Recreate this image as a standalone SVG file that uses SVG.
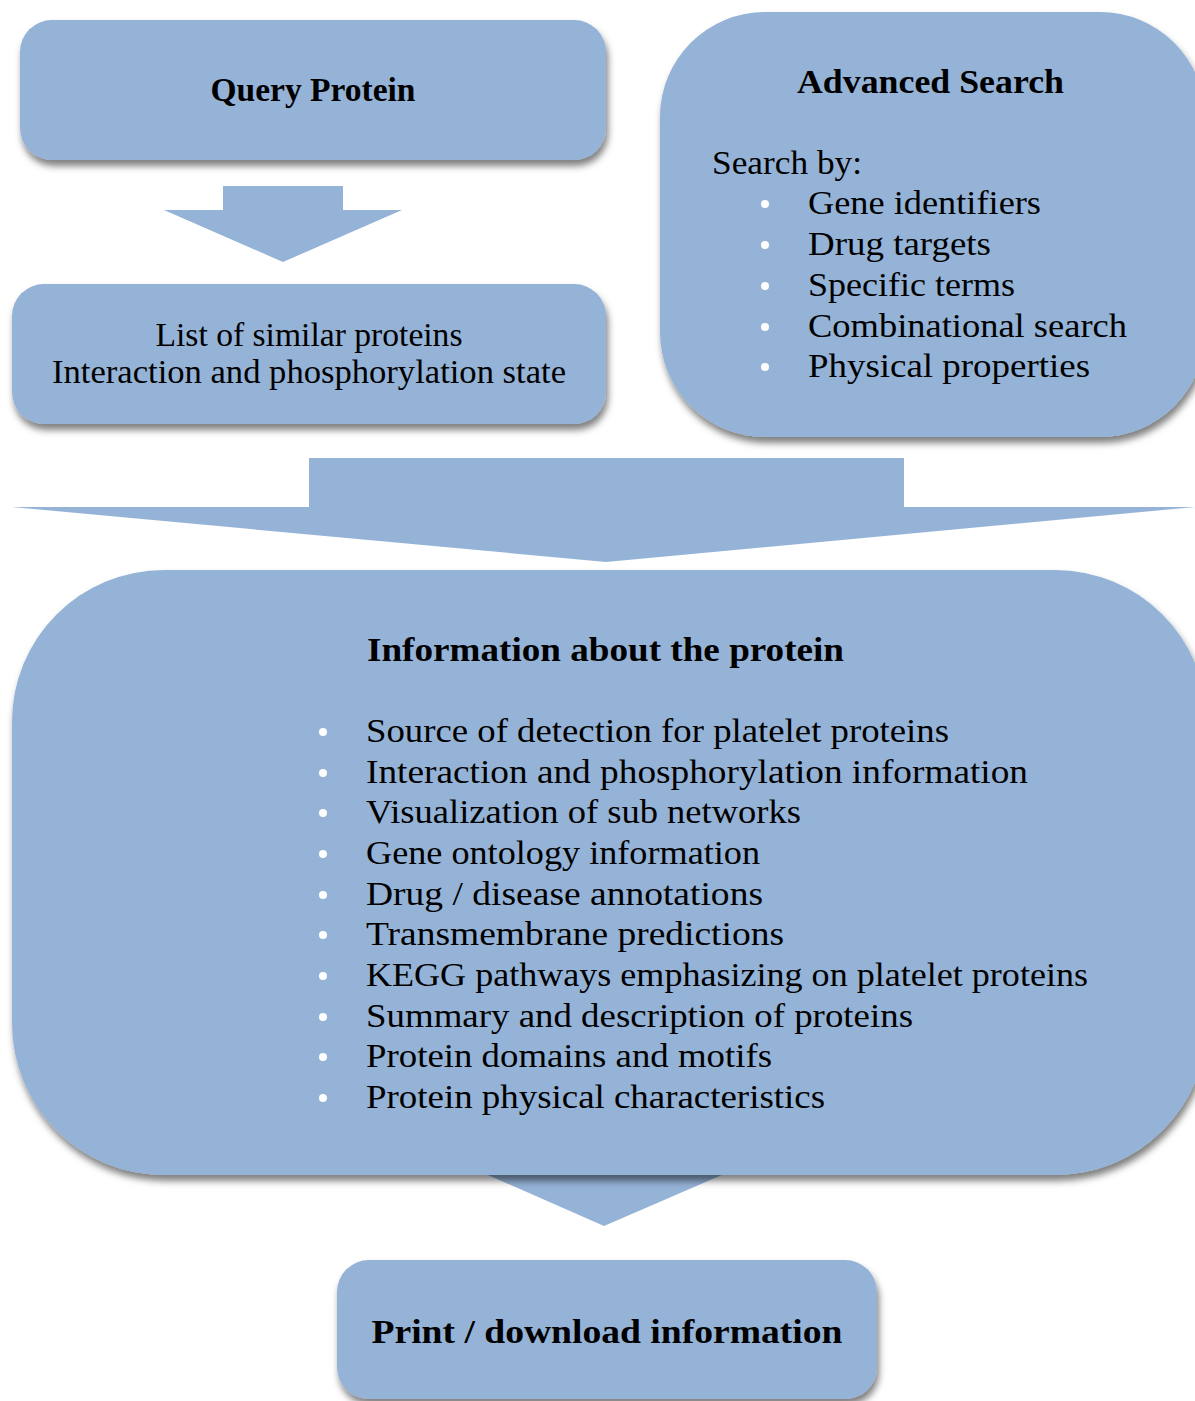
<svg xmlns="http://www.w3.org/2000/svg" width="1195" height="1401" viewBox="0 0 1195 1401">
  <defs>
    <filter id="shadow" x="-10%" y="-10%" width="130%" height="130%">
      <feDropShadow dx="2" dy="6" stdDeviation="3.5" flood-color="#000" flood-opacity="0.5"/>
    </filter>
    <style>
      .box { fill: #95B3D7; filter: url(#shadow); }
      .arrow { fill: #95B3D7; }
      text { font-family: "Liberation Serif", "Times New Roman", serif; font-size: 33px; fill: #000; }
      .title { font-weight: bold; }
      .mid { text-anchor: middle; }
      .dot { fill: #fff; }
    </style>
  </defs>

  <rect width="1195" height="1401" fill="#fff"/>

  <!-- block arrows between the stages -->
  <g id="connectors">
    <polygon class="arrow" points="223,186 343,186 343,210 402,210 283,262 164,210 223,210"/>
    <polygon class="arrow" points="309,458 904,458 904,507 1195,507 606,562 12,507 309,507"/>
    <polygon class="arrow" points="465,1165 745,1165 604,1226"/>
  </g>

  <g id="query-protein">
    <rect class="box" x="20" y="20" width="586" height="140" rx="32"/>
    <text class="title mid" x="313" y="101" textLength="205" lengthAdjust="spacingAndGlyphs">Query Protein</text>
  </g>

  <g id="similar-proteins">
    <rect class="box" x="12" y="284" width="594" height="140" rx="32"/>
    <text class="mid" x="309" y="346" textLength="307" lengthAdjust="spacingAndGlyphs">List of similar proteins</text>
    <text class="mid" x="309" y="383" textLength="514" lengthAdjust="spacingAndGlyphs">Interaction and phosphorylation state</text>
  </g>

  <g id="advanced-search">
    <rect class="box" x="660" y="12" width="545" height="425" rx="105"/>
    <text class="title" x="797" y="93" textLength="267" lengthAdjust="spacingAndGlyphs">Advanced Search</text>
    <text x="712" y="174" textLength="150" lengthAdjust="spacingAndGlyphs">Search by:</text>
    <circle class="dot" cx="765" cy="204" r="4"/>
    <circle class="dot" cx="765" cy="245" r="4"/>
    <circle class="dot" cx="765" cy="286" r="4"/>
    <circle class="dot" cx="765" cy="327" r="4"/>
    <circle class="dot" cx="765" cy="367" r="4"/>
    <text x="808" y="214" textLength="233" lengthAdjust="spacingAndGlyphs">Gene identifiers</text>
    <text x="808" y="255" textLength="183" lengthAdjust="spacingAndGlyphs">Drug targets</text>
    <text x="808" y="296" textLength="207" lengthAdjust="spacingAndGlyphs">Specific terms</text>
    <text x="808" y="337" textLength="319" lengthAdjust="spacingAndGlyphs">Combinational search</text>
    <text x="808" y="377" textLength="282" lengthAdjust="spacingAndGlyphs">Physical properties</text>
  </g>

  <g id="protein-information">
    <rect class="box" x="12" y="570" width="1195" height="605" rx="152"/>
    <text class="title" x="367" y="661" textLength="477" lengthAdjust="spacingAndGlyphs">Information about the protein</text>
    <g>
      <circle class="dot" cx="323" cy="732" r="4"/>
      <circle class="dot" cx="323" cy="773" r="4"/>
      <circle class="dot" cx="323" cy="813" r="4"/>
      <circle class="dot" cx="323" cy="854" r="4"/>
      <circle class="dot" cx="323" cy="895" r="4"/>
      <circle class="dot" cx="323" cy="935" r="4"/>
      <circle class="dot" cx="323" cy="976" r="4"/>
      <circle class="dot" cx="323" cy="1017" r="4"/>
      <circle class="dot" cx="323" cy="1057" r="4"/>
      <circle class="dot" cx="323" cy="1098" r="4"/>
    </g>
    <text x="366" y="742" textLength="583" lengthAdjust="spacingAndGlyphs">Source of detection for platelet proteins</text>
    <text x="366" y="783" textLength="662" lengthAdjust="spacingAndGlyphs">Interaction and phosphorylation information</text>
    <text x="366" y="823" textLength="435" lengthAdjust="spacingAndGlyphs">Visualization of sub networks</text>
    <text x="366" y="864" textLength="394" lengthAdjust="spacingAndGlyphs">Gene ontology information</text>
    <text x="366" y="905" textLength="397" lengthAdjust="spacingAndGlyphs">Drug / disease annotations</text>
    <text x="366" y="945" textLength="418" lengthAdjust="spacingAndGlyphs">Transmembrane predictions</text>
    <text x="366" y="986" textLength="722" lengthAdjust="spacingAndGlyphs">KEGG pathways emphasizing on platelet proteins</text>
    <text x="366" y="1027" textLength="547" lengthAdjust="spacingAndGlyphs">Summary and description of proteins</text>
    <text x="366" y="1067" textLength="406" lengthAdjust="spacingAndGlyphs">Protein domains and motifs</text>
    <text x="366" y="1108" textLength="459" lengthAdjust="spacingAndGlyphs">Protein physical characteristics</text>
  </g>

  <g id="print-download">
    <rect class="box" x="337" y="1260" width="540" height="139" rx="32"/>
    <text class="title mid" x="607" y="1343" textLength="471" lengthAdjust="spacingAndGlyphs">Print / download information</text>
  </g>
</svg>
